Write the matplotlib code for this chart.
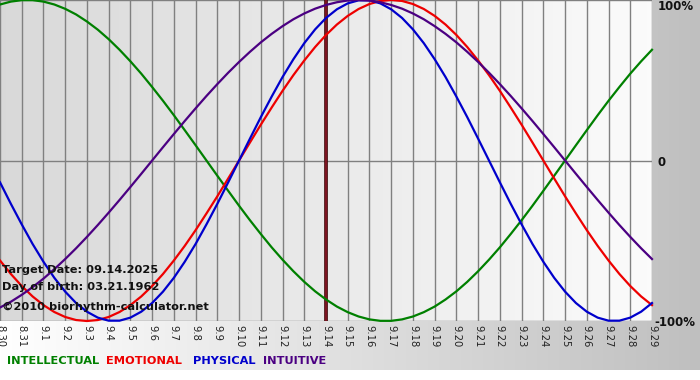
import numpy as np
import matplotlib
matplotlib.use("Agg")
import matplotlib.pyplot as plt

# days shown on the chart (8.30 .. 9.29)
day_labels = ["8.30", "8.31"] + ["9.%d" % i for i in range(1, 30)]

# biorhythm values, every half day from 8.30 to 9.29
physical = [-0.136, -0.270, -0.398, -0.520, -0.631, -0.731, -0.817, -0.888, -0.942, -0.979, -0.998,
            -0.998, -0.979, -0.942, -0.888, -0.817, -0.731, -0.631, -0.520, -0.398, -0.270, -0.136,
            0.000, 0.136, 0.270, 0.398, 0.520, 0.631, 0.731, 0.817, 0.888, 0.942, 0.979, 0.998,
            0.998, 0.979, 0.942, 0.888, 0.817, 0.731, 0.631, 0.520, 0.398, 0.270, 0.136,
            0.000, -0.136, -0.270, -0.398, -0.520, -0.631, -0.731, -0.817, -0.888, -0.942, -0.979,
            -0.998, -0.998, -0.979, -0.942, -0.888]
emotional = [-0.623, -0.707, -0.782, -0.847, -0.901, -0.944, -0.975, -0.994, -1.000, -0.994, -0.975,
             -0.944, -0.901, -0.847, -0.782, -0.707, -0.623, -0.532, -0.434, -0.330, -0.223, -0.112,
             0.000, 0.112, 0.223, 0.330, 0.434, 0.532, 0.623, 0.707, 0.782, 0.847, 0.901, 0.944,
             0.975, 0.994, 1.000, 0.994, 0.975, 0.944, 0.901, 0.847, 0.782, 0.707, 0.623, 0.532,
             0.434, 0.330, 0.223, 0.112,
             0.000, -0.112, -0.223, -0.330, -0.434, -0.532, -0.623, -0.707, -0.782, -0.847, -0.901]
intellectual = [0.972, 0.990, 0.999, 0.999, 0.990, 0.972, 0.945, 0.910, 0.866, 0.815, 0.756,
                0.690, 0.618, 0.541, 0.458, 0.372, 0.282, 0.189, 0.095,
                0.000, -0.095, -0.189, -0.282, -0.372, -0.458, -0.541, -0.618, -0.690, -0.756,
                -0.815, -0.866, -0.910, -0.945, -0.972, -0.990, -0.999, -0.999, -0.990, -0.972,
                -0.945, -0.910, -0.866, -0.815, -0.756, -0.690, -0.618, -0.541, -0.458, -0.372,
                -0.282, -0.189, -0.095,
                0.000, 0.095, 0.189, 0.282, 0.372, 0.458, 0.541, 0.618, 0.690]
intuitive = [-0.916, -0.880, -0.837, -0.789, -0.736, -0.677, -0.614, -0.547, -0.476, -0.402,
             -0.325, -0.246, -0.165, -0.083,
             0.000, 0.083, 0.165, 0.246, 0.325, 0.402, 0.476, 0.547, 0.614, 0.677, 0.736, 0.789,
             0.837, 0.880, 0.916, 0.946, 0.969, 0.986, 0.997, 1.000, 0.997, 0.986, 0.969, 0.946,
             0.916, 0.880, 0.837, 0.789, 0.736, 0.677, 0.614, 0.547, 0.476, 0.402, 0.325, 0.246,
             0.165, 0.083,
             0.000, -0.083, -0.165, -0.246, -0.325, -0.402, -0.476, -0.547, -0.614]

target_day = "9.14"
series = [("INTELLECTUAL", intellectual, "#008000"),
          ("EMOTIONAL", emotional, "#ee0000"),
          ("PHYSICAL", physical, "#0000cc"),
          ("INTUITIVE", intuitive, "#4b0082")]

W, H = 700, 380
fig = plt.figure(figsize=(W / 100, H / 100), dpi=100)

# background gradient white -> grey
bg = fig.add_axes([0, 0, 1, 1])
bg.axis("off")
grad = np.linspace(1.0, 0.75, 256)[None, :]
bg.imshow(np.dstack([grad, grad, grad]), aspect="auto", extent=(0, 1, 10 / H, 1))
bg.imshow(np.ones((2, 2, 3)), aspect="auto", extent=(0, 1, 0, 10 / H))
bg.set_xlim(0, 1)
bg.set_ylim(0, 1)

x = np.arange(len(day_labels))
xh = np.arange(len(physical)) / 2.0  # half-day steps
ax = fig.add_axes([0, 59 / H, 652 / W, 321 / H])
pg = np.linspace(0.85, 0.985, 256)[None, :]
ax.imshow(np.dstack([pg, pg, pg]), aspect="auto", extent=(0, len(x) - 1, -1, 1), zorder=0)
ax.set_xlim(0, len(x) - 1)
ax.set_ylim(-1, 1)
for s in ax.spines.values():
    s.set_visible(False)

for xi in x:
    ax.axvline(xi, color="#808080", lw=1, zorder=1)
for yv in (-1, 0, 1):
    ax.axhline(yv, color="#808080", lw=1, zorder=1)

ti = day_labels.index(target_day)
ax.axvline(ti, color="#3a0000", lw=2.6, zorder=2)
ax.axvline(ti, color="#8b1a2a", lw=1.2, zorder=2)

for name, vals, col in series:
    ax.plot(xh, vals, color=col, lw=1.6, zorder=3, clip_on=False)

ax.set_xticks(x)
ax.set_xticklabels(day_labels, rotation=-90, fontsize=7.2, color="#222222")
ax.tick_params(axis="x", length=0, pad=3)
ax.set_yticks([])

txt = dict(fontsize=8.2, fontweight="bold", color="#111111", family="DejaVu Sans")
ax.text(0.003, 0.159, "Target Date: 09.14.2025", transform=ax.transAxes, va="center", **txt)
ax.text(0.003, 0.106, "Day of birth: 03.21.1962", transform=ax.transAxes, va="center", **txt)
ax.text(0.003, 0.044, "\u00a92010 biorhythm-calculator.net", transform=ax.transAxes, va="center", **txt)

lab = dict(fontsize=8.5, fontweight="bold", va="center", color="#111111")
fig.text(658 / W, 1 - 7 / H, "100%", **lab)
fig.text(658 / W, 1 - 162 / H, "0", **lab)
fig.text(654 / W, 1 - 322 / H, "-100%", **lab)

# legend as coloured words
xpos = 7
gaps = [7, 11, 7, 0]
for (name, vals, col), gap in zip(series, gaps):
    t = fig.text(xpos / W, 1 - 361 / H, name, fontsize=8.2, fontweight="bold",
                 color=col, va="center")
    fig.canvas.draw()
    bb = t.get_window_extent()
    xpos = bb.x1 + gap

fig.savefig("out.png", dpi=100)
